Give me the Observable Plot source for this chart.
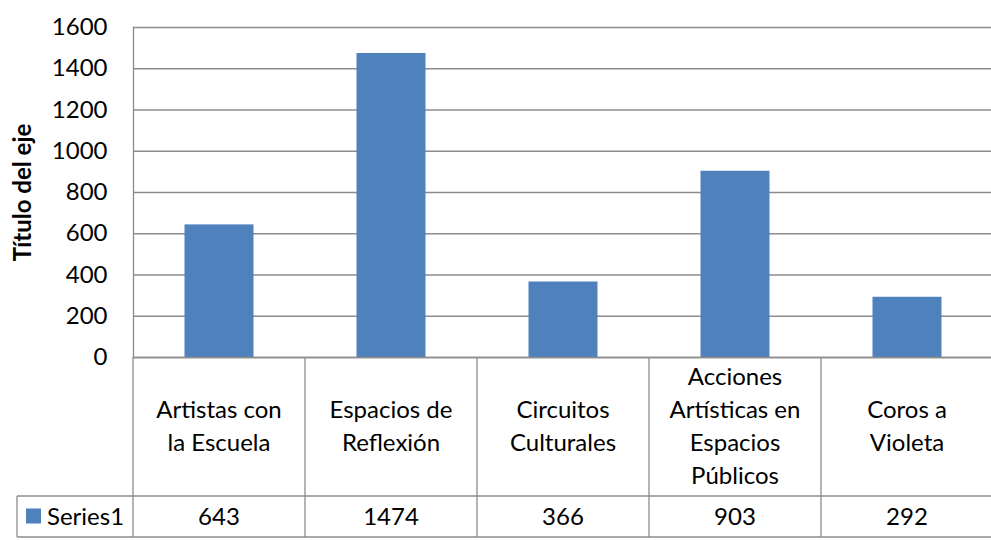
<!DOCTYPE html>
<html>
<head>
<meta charset="utf-8">
<script src="https://cdn.jsdelivr.net/npm/d3@7"></script>
<script src="https://cdn.jsdelivr.net/npm/@observablehq/plot@0.6"></script>
<style>
  html, body { margin: 0; padding: 0; background: #fff; }
</style>
</head>
<body>
<div id="chart"></div>
<script>
const categories = [
  "Artistas con\nla Escuela",
  "Espacios de\nReflexión",
  "Circuitos\nCulturales",
  "Acciones\nArtísticas en\nEspacios\nPúblicos",
  "Coros a\nVioleta"
];
const values = [643, 1474, 366, 903, 292];
const seriesName = "Series1";
const yTicks = [0, 200, 400, 600, 800, 1000, 1200, 1400, 1600];
const axisTitle = "Título del eje";

const data = categories.map((c, i) => ({cat: c, value: values[i]}));

const FONT = "Lato, 'Open Sans', sans-serif";
const FS = 24;
const GRID = "#8c8c8c";
const BLUE = "#4F81BD";

const chart = Plot.plot({
  width: 991,
  height: 541,
  marginLeft: 133,
  marginTop: 27,
  marginRight: 0,
  marginBottom: 184,
  style: {fontFamily: FONT, fontSize: FS + "px", color: "#000", background: "#fff", overflow: "visible"},
  x: {type: "band", domain: categories, range: [133, 993], padding: 0, axis: null},
  y: {domain: [0, 1600], axis: null},
  marks: [
    Plot.gridY(yTicks, {stroke: GRID, strokeOpacity: 1, strokeWidth: 1.3}),
    Plot.barY(data, {x: "cat", y: "value", fill: BLUE, insetLeft: 51.5, insetRight: 51.5}),
    Plot.axisY(yTicks, {anchor: "left", tickSize: 0, tickPadding: 26, label: null, fontSize: FS, fill: "#000", tickFormat: d => String(d)}),
    Plot.ruleY([0], {stroke: GRID, strokeWidth: 1.3}),
    Plot.frame({anchor: "left", stroke: GRID, strokeWidth: 1.3}),
    Plot.text([axisTitle], {frameAnchor: "left", dx: -110, rotate: -90, fontWeight: "bold", fontSize: 24, textAnchor: "middle", fill: "#000"})
  ]
});

document.getElementById("chart").appendChild(chart);

// Data table beneath the plot, positioned with the chart's own scales
const xs = chart.scale("x");
const ys = chart.scale("y");
const svg = d3.select(chart);
const y0 = ys.apply(0);
const rowCatBottom = y0 + 139;
const rowValBottom = rowCatBottom + 41;
const tableLeft = 17;
const xEnd = xs.apply(categories[categories.length - 1]) + xs.bandwidth;

const g = svg.append("g")
  .attr("font-family", FONT)
  .attr("font-size", FS)
  .attr("fill", "#000");

// vertical lines
const vx = categories.map(c => xs.apply(c)).concat([xEnd]);
vx.forEach(x => {
  g.append("line").attr("x1", x).attr("x2", x).attr("y1", y0).attr("y2", rowValBottom)
    .attr("stroke", GRID).attr("stroke-width", 1.3);
});
g.append("line").attr("x1", tableLeft).attr("x2", tableLeft).attr("y1", rowCatBottom).attr("y2", rowValBottom)
  .attr("stroke", GRID).attr("stroke-width", 1.3);
// horizontal lines
[rowCatBottom, rowValBottom].forEach(y => {
  g.append("line").attr("x1", tableLeft).attr("x2", xEnd).attr("y1", y).attr("y2", y)
    .attr("stroke", GRID).attr("stroke-width", 1.3);
});

// category labels
const lineH = 33;
categories.forEach(c => {
  const lines = c.split("\n");
  const cx = xs.apply(c) + xs.bandwidth / 2;
  const cy = (y0 + rowCatBottom) / 2;
  lines.forEach((ln, i) => {
    g.append("text")
      .attr("x", cx)
      .attr("y", cy + (i - (lines.length - 1) / 2) * lineH)
      .attr("text-anchor", "middle")
      .attr("dy", "0.35em")
      .text(ln);
  });
});

// value row
const vy = (rowCatBottom + rowValBottom) / 2;
categories.forEach((c, i) => {
  g.append("text")
    .attr("x", xs.apply(c) + xs.bandwidth / 2)
    .attr("y", vy)
    .attr("text-anchor", "middle")
    .attr("dy", "0.35em")
    .text(values[i]);
});

// legend key in the table
g.append("rect").attr("x", 26).attr("y", vy - 8).attr("width", 15).attr("height", 15).attr("fill", BLUE);
g.append("text").attr("x", 47).attr("y", vy).attr("dy", "0.35em").attr("text-anchor", "start").text(seriesName);
</script>
</body>
</html>
